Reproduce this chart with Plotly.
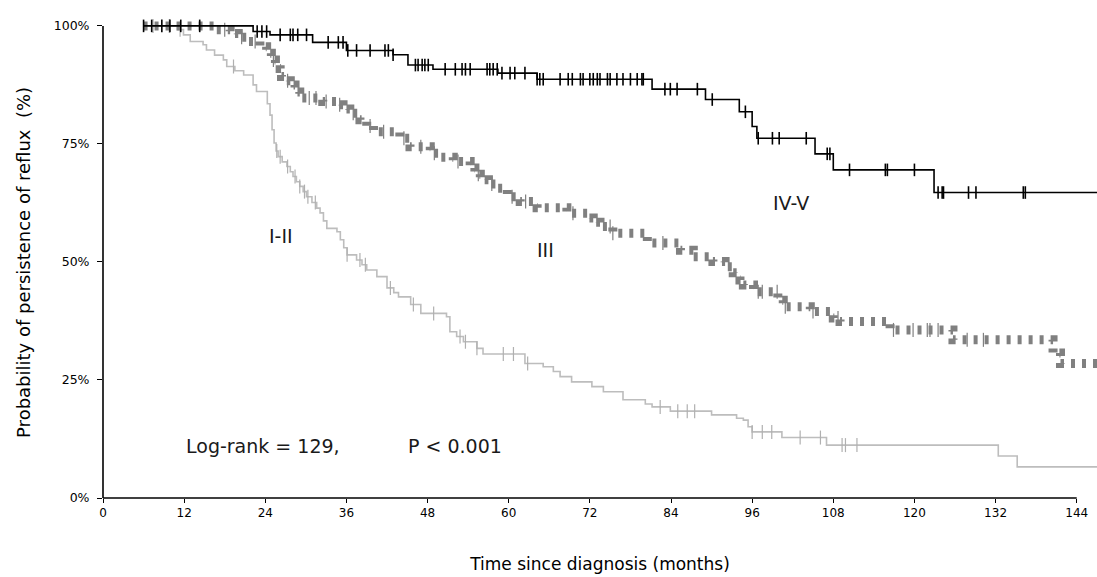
import numpy as np
import plotly.graph_objects as go

# ---------------- data ----------------
END_T = 147.5

# Grade I-II
t_12 = [6, 11.0, 11.9, 12.9, 14.8, 15.3, 16.5, 17.8, 18.3, 19.5, 20.8, 22.2, 22.7, 24.3, 24.7,
        25.0, 25.3, 25.6, 25.9, 26.5, 27.2, 27.7, 28.1, 28.6, 29.1, 29.6, 30.1, 30.9, 31.6,
        32.1, 32.6, 33.1, 34.6, 35.1, 35.6, 36.1, 37.5, 38.3, 39.0, 40.5, 42.0, 43.0, 43.7,
        45.5, 47.0, 50.8, 51.3, 52.3, 53.3, 55.3, 56.2, 62.4, 65.1, 66.6, 67.6, 69.3, 72.3,
        74.0, 76.9, 80.2, 81.2, 83.9, 90.0, 93.7, 94.7, 95.4, 96.0, 100.4, 107.0, 132.4, 135.2]
s_12 = [100, 99.2, 98.1, 96.7, 96.0, 94.9, 93.8, 92.8, 91.4, 90.5, 89.6, 87.5, 86.1, 83.5, 81.1,
        78.0, 75.2, 73.5, 72.3, 71.2, 70.2, 69.1, 68.1, 67.0, 66.0, 64.9, 63.8, 62.6, 61.4,
        60.4, 58.7, 57.1, 56.4, 54.7, 53.0, 51.5, 50.4, 49.4, 48.3, 46.9, 44.5, 43.5, 42.6,
        41.0, 39.1, 38.4, 35.2, 34.2, 33.1, 31.7, 30.5, 28.5, 27.8, 26.8, 25.7, 24.6, 23.6,
        22.5, 20.8, 19.9, 19.3, 18.4, 17.6, 16.9, 16.5, 15.1, 14.0, 12.8, 11.2, 8.9, 6.6]
c_12 = [7.4, 9.8, 11.4, 19.3, 25.7, 26.2, 27.3, 28.4, 29.1, 29.8, 30.3, 31.4, 36.1, 38.0, 38.8,
        42.5, 45.9, 48.9, 52.8, 53.6, 55.3, 59.2, 60.7, 62.8, 82.4, 85.0, 86.4, 87.5, 96.0,
        97.5, 98.9, 103.1, 106.1, 109.3, 109.8, 111.5]

# Grade III
t_3 = [6, 16.8, 18.8, 20.0, 21.3, 23.2, 24.2, 24.9, 25.5, 26.2, 26.4, 27.0, 27.7, 28.4, 29.1,
       32.5, 34.6, 35.5, 36.5, 38.0, 39.0, 40.0, 43.9, 45.4, 48.4, 50.0, 51.8, 54.3, 55.0,
       55.8, 57.0, 58.3, 59.8, 61.7, 64.2, 68.6, 71.6, 72.5, 73.5, 75.4, 80.5, 85.4, 87.3,
       90.2, 92.0, 93.2, 94.2, 94.7, 96.2, 99.8, 100.6, 104.6, 108.0, 109.0, 116.4, 125.7,
       140.5, 141.6]
s_3 = [100, 99.2, 98.4, 97.6, 96.7, 95.6, 94.2, 92.8, 91.8, 91.0, 89.3, 88.4, 87.5, 86.0, 84.7,
       84.0, 83.3, 82.4, 81.5, 80.1, 78.8, 77.6, 76.2, 74.4, 73.0, 72.2, 71.3, 69.9, 68.6,
       67.4, 66.5, 65.6, 63.8, 62.8, 61.5, 60.3, 59.3, 58.4, 57.5, 56.1, 54.0, 52.5, 51.1,
       50.1, 49.0, 47.7, 46.2, 45.1, 43.7, 41.9, 40.5, 39.5, 38.1, 37.4, 35.6, 33.5,
       30.7, 28.5]
c_3 = [18.0, 20.5, 22.5, 25.2, 27.3, 30.5, 31.5, 33.0, 35.0, 37.0, 39.5, 41.5, 44.5, 47.0,
       49.0, 52.5, 55.5, 57.5, 60.5, 62.5, 69.5, 75.0, 75.4, 82.8, 96.9, 97.5,
       99.7, 100.9, 105.0, 108.7, 116.9, 119.8, 121.9, 122.3, 123.5, 127.8, 130.2]

# Grade IV-V
t_45 = [6, 22.2, 24.7, 31.0, 36.0, 42.9, 45.1, 48.8, 58.4, 64.2, 81.2, 89.1, 94.1, 96.0, 96.7,
        105.3, 108.0, 122.9]
s_45 = [100, 98.8, 98.1, 96.5, 94.8, 93.9, 91.7, 90.8, 90.0, 88.7, 86.6, 84.4, 81.8, 78.7, 76.2,
        72.9, 69.5, 64.7]
c_45 = [6.0, 7.2, 8.7, 9.9, 11.5, 14.3, 22.8, 23.5, 24.2, 26.2, 27.7, 28.1, 28.8, 30.1, 33.3,
        34.8, 35.5, 36.2, 37.5, 39.5, 41.7, 42.2, 42.9, 46.2, 46.6, 47.2, 47.6, 48.1, 50.6,
        52.1, 53.1, 53.6, 54.3, 56.8, 57.2, 57.7, 58.3, 59.0, 60.2, 60.9, 62.4, 64.2, 64.6,
        65.1, 67.6, 68.8, 69.4, 70.6, 71.0, 72.0, 72.5, 73.1, 73.5, 74.6, 75.0, 76.0, 76.9,
        78.0, 79.0, 79.7, 79.9, 83.1, 83.9, 84.9, 87.9, 90.1, 95.0, 96.9, 99.0, 100.0, 104.0,
        107.1, 107.5, 110.4, 115.7, 116.0, 120.0, 123.5, 124.1, 124.3, 128.0, 129.1, 136.1,
        136.4]

Y_TICKS = [0, 25, 50, 75, 100]
Y_TICKTEXT = ["0%", "25%", "50%", "75%", "100%"]
X_TICKS = list(range(0, 145, 12))

X_MAX = 147.0
Y_MAX = 104.0

FONT = "DejaVu Sans, Arial, sans-serif"


def step_value(times, surv, t):
    i = np.searchsorted(np.array(times), t, side="right") - 1
    return np.array(surv)[np.clip(i, 0, len(surv) - 1)]


fig = go.Figure()

groups = [
    (t_12, s_12, c_12, dict(color="#bdbdbd", width=1.6), "#b0b0b0", 10, 1.2),
    (t_3, s_3, c_3, dict(color="#808080", width=9, dash="4px,7px"), "#808080", 10, 1.2),
    (t_45, s_45, c_45, dict(color="#000000", width=1.6), "#000000", 9, 1.6),
]
for times, surv, cens, line, mcol, msize, mw in groups:
    xs = list(times) + [END_T]
    ys = list(surv) + [surv[-1]]
    fig.add_trace(go.Scatter(x=xs, y=ys, mode="lines", line=dict(shape="hv", **line),
                             hoverinfo="skip", showlegend=False))
    cy = step_value(times, surv, np.array(cens))
    fig.add_trace(go.Scatter(x=cens, y=cy, mode="markers",
                             marker=dict(symbol="line-ns-open", size=msize, color=mcol,
                                         line=dict(width=mw, color=mcol)),
                             hoverinfo="skip", showlegend=False, cliponaxis=False))

# axis lines (end at 144 months and 100 %)
fig.add_shape(type="line", xref="x domain", yref="y domain", x0=0, x1=144 / X_MAX, y0=0, y1=0,
              line=dict(color="black", width=1.6))
fig.add_shape(type="line", xref="x domain", yref="y domain", x0=0, x1=0, y0=0, y1=100 / Y_MAX,
              line=dict(color="black", width=1.6))

ann_font = dict(family=FONT, size=19, color="#1a1a1a")
fig.add_annotation(x=26.3, y=55.5, text="I-II", showarrow=False, font=ann_font)
fig.add_annotation(x=65.5, y=52.6, text="III", showarrow=False, font=ann_font)
fig.add_annotation(x=101.8, y=62.5, text="IV-V", showarrow=False, font=ann_font)
fig.add_annotation(x=12.0, y=11.0, text="Log-rank = 129,", showarrow=False, xanchor="left",
                   font=ann_font)
fig.add_annotation(x=44.8, y=11.0, text="P < 0.001", showarrow=False, xanchor="left",
                   font=ann_font)

# y-axis title, centred on the 0-100 % span
fig.add_annotation(xref="paper", yref="y", x=-0.0795, y=50, textangle=-90,
                   text="Probability of persistence of reflux  (%)", showarrow=False,
                   xanchor="center", yanchor="middle",
                   font=dict(family=FONT, size=18, color="black"))

fig.update_xaxes(range=[0, X_MAX], tickvals=X_TICKS, ticks="outside", ticklen=4, tickwidth=1.2,
                 tickcolor="black", showline=False, showgrid=False, zeroline=False,
                 tickfont=dict(family=FONT, size=12, color="black"),
                 title=dict(text="Time since diagnosis (months)", standoff=38,
                            font=dict(family=FONT, size=17, color="black")))
fig.update_yaxes(range=[0, Y_MAX], tickvals=Y_TICKS, ticktext=Y_TICKTEXT, ticks="outside",
                 ticklen=5, tickwidth=1.2, tickcolor="black", showline=False, showgrid=False,
                 zeroline=False, tickfont=dict(family=FONT, size=12.5, color="black"),
                 ticklabelstandoff=5)

fig.update_layout(width=1097, height=577, margin=dict(l=103, r=0, t=7, b=79),
                  plot_bgcolor="white", paper_bgcolor="white")

fig.write_html("out.html")
